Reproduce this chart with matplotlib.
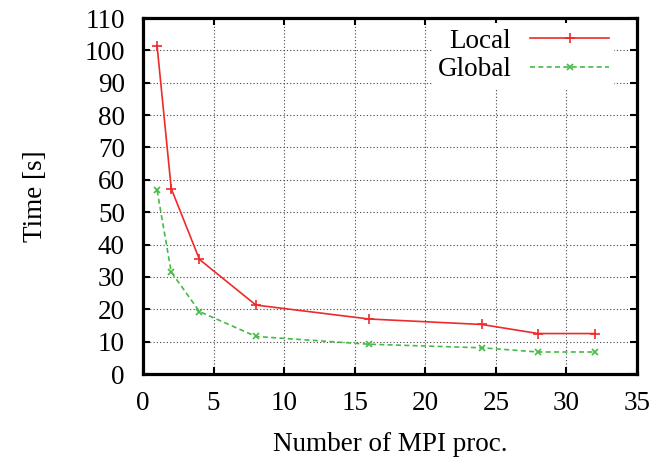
import matplotlib
matplotlib.use("Agg")
import matplotlib.pyplot as plt

procs = [1, 2, 4, 8, 16, 24, 28, 32]
local_time = [101.3, 57.3, 35.4, 21.3, 17.0, 15.3, 12.5, 12.5]
global_time = [56.7, 31.5, 19.3, 11.6, 9.2, 8.1, 6.8, 6.8]
xticks = [0, 5, 10, 15, 20, 25, 30, 35]
yticks = list(range(0, 111, 10))

plt.rcParams['font.family'] = ['Liberation Serif', 'DejaVu Serif']
plt.rcParams['font.size'] = 19.5

fig = plt.figure(figsize=(6.7, 4.58), dpi=100)
ax = fig.add_axes([143/670, 1-374/458, (637-143)/670, (374-18)/458])

ax.plot(procs, local_time, color='#ee2a2a', lw=1.2, marker='+', ms=7, mew=1.2,
        label='Local')
ax.plot(procs, global_time, color='#44bb44', lw=1.2, ls=(0, (3, 2)), marker='x',
        ms=5, mew=1.2, label='Global')

ax.set_xlim(0, 35)
ax.set_ylim(0, 110)
ax.set_xticks(xticks)
ax.set_yticks(yticks)
ax.grid(True, color='#444444', ls=(0, (1, 2)), lw=0.8)
for s in ax.spines.values():
    s.set_linewidth(2.3)
ax.tick_params(direction='in', length=5, width=1.5, top=True, right=True)
ax.tick_params(axis='x', pad=12)
ax.tick_params(axis='y', pad=13)

ax.set_xlabel('Number of MPI proc.', labelpad=12)
ax.set_ylabel('Time [s]', labelpad=26)

leg = ax.legend(loc='upper right', bbox_to_anchor=(0.965, 1.0), markerfirst=False,
                frameon=True, fancybox=False, edgecolor='none', facecolor='white',
                framealpha=1, handlelength=2.9, handletextpad=0.7,
                labelspacing=0.12, borderpad=0.2, borderaxespad=0.2)
for t in leg.get_texts():
    t.set_ha('right')

fig.savefig('out.png', dpi=100)
